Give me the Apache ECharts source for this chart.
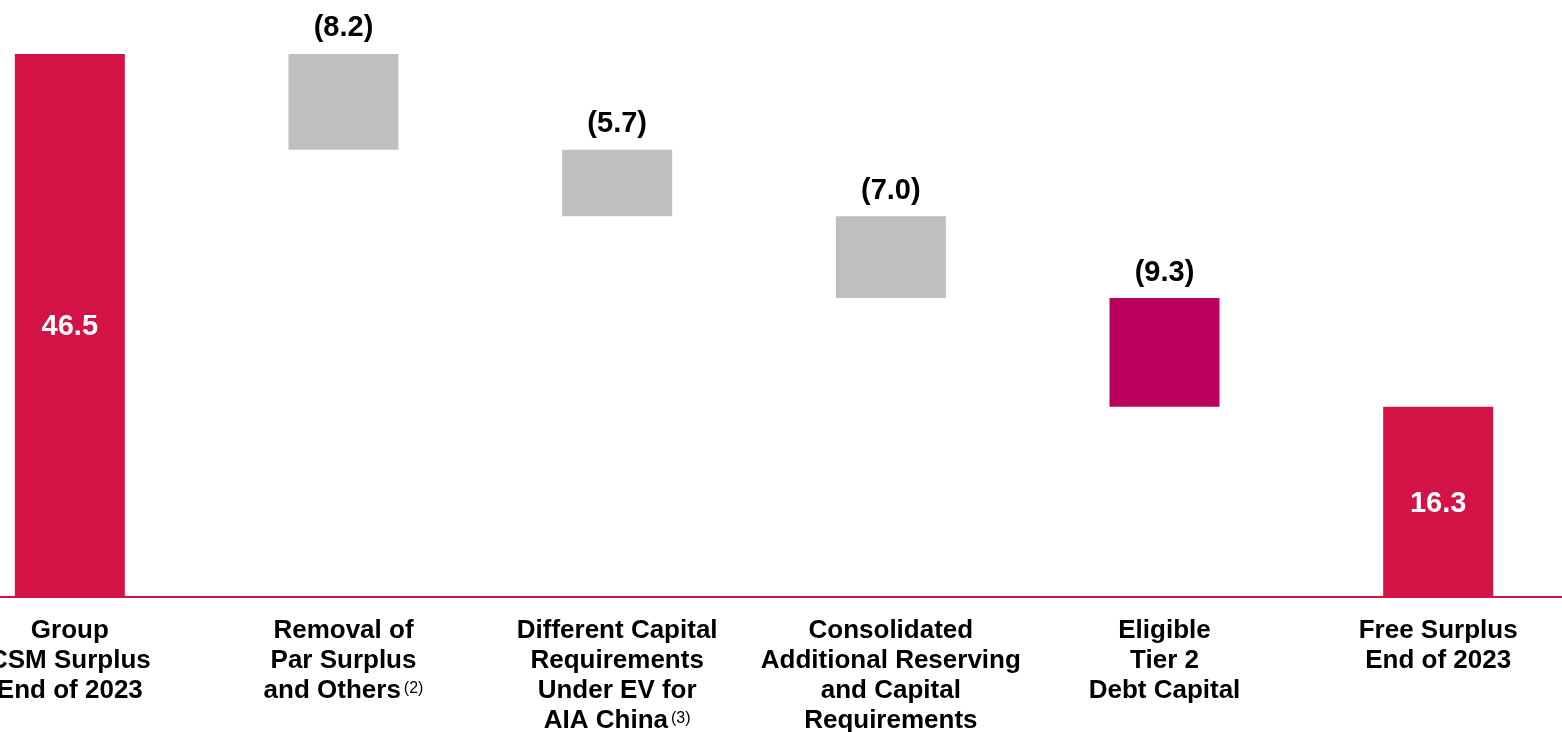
<!DOCTYPE html>
<html>
<head>
<meta charset="utf-8">
<script src="https://cdn.jsdelivr.net/npm/echarts@6/dist/echarts.min.js"></script>
<style>
  html, body { margin: 0; padding: 0; width: 1562px; height: 732px; overflow: hidden; background: #fff; position: relative; }
  #chart { position: absolute; left: -67px; top: 0; width: 1642px; height: 732px; }
</style>
</head>
<body>
<div id="chart"></div>
<script>
// ---- data ----
const categories = [
  "Group\nCSM Surplus\nEnd of 2023",
  "Removal of\nPar Surplus\nand Others{sup|(2)}",
  "Different Capital\nRequirements\nUnder EV for\nAIA China{sup|(3)}",
  "Consolidated\nAdditional Reserving\nand Capital\nRequirements",
  "Eligible\nTier 2\nDebt Capital",
  "Free Surplus\nEnd of 2023"
];
const values = [46.5, -8.2, -5.7, -7.0, -9.3, 16.3];
const isTotal = [true, false, false, false, false, true];

// ---- styles ----
const colors = ["#D31245", "#BFBFBF", "#BFBFBF", "#BFBFBF", "#BA005C", "#D31245"];

// compute waterfall placement from the values
const base = [];
const bar = [];
let running = 0;
values.forEach((v, i) => {
  if (isTotal[i]) {
    base.push(0);
    bar.push(Math.abs(v));
    running = v;
  } else {
    const next = running + v;
    base.push(Math.min(running, next));
    bar.push(Math.abs(v));
    running = next;
  }
});

const font = "'Liberation Sans', Arial, sans-serif";

const barData = bar.map((b, i) => {
  const v = values[i];
  const total = isTotal[i];
  return {
    value: b,
    itemStyle: { color: colors[i] },
    label: total ? {
      show: true, position: 'inside', color: '#ffffff', offset: [0, 2],
      formatter: v.toFixed(1)
    } : {
      show: true, position: 'top', distance: 11, color: '#000000',
      formatter: '(' + Math.abs(v).toFixed(1) + ')'
    }
  };
});

const chart = echarts.init(document.getElementById('chart'), null, { renderer: 'canvas' });
chart.setOption({
  animation: false,
  backgroundColor: '#ffffff',
  grid: { left: 0, right: 0, top: 13.1, bottom: 135, containLabel: false, outerBoundsMode: 'none' },
  xAxis: {
    type: 'category',
    data: categories,
    axisLine: { show: true, lineStyle: { color: '#D31245', width: 2 } },
    axisTick: { show: false },
    axisLabel: {
      interval: 0,
      margin: 19,
      color: '#000000',
      fontFamily: font,
      fontWeight: 'bold',
      fontSize: 26,
      lineHeight: 30,
      align: 'center',
      rich: {
        sup: { fontSize: 16, fontWeight: 'normal', fontFamily: font, color: '#000000', padding: [0, 0, 5, 3], lineHeight: 30 }
      }
    }
  },
  yAxis: {
    type: 'value', min: 0, max: 50, show: false,
    splitLine: { show: false }
  },
  series: [
    {
      type: 'bar', stack: 'wf', barWidth: 110,
      itemStyle: { color: 'transparent' },
      emphasis: { disabled: true },
      data: base,
      silent: true
    },
    {
      type: 'bar', stack: 'wf', barWidth: 110,
      label: { fontFamily: font, fontWeight: 'bold', fontSize: 29 },
      data: barData
    }
  ]
});
</script>
</body>
</html>
